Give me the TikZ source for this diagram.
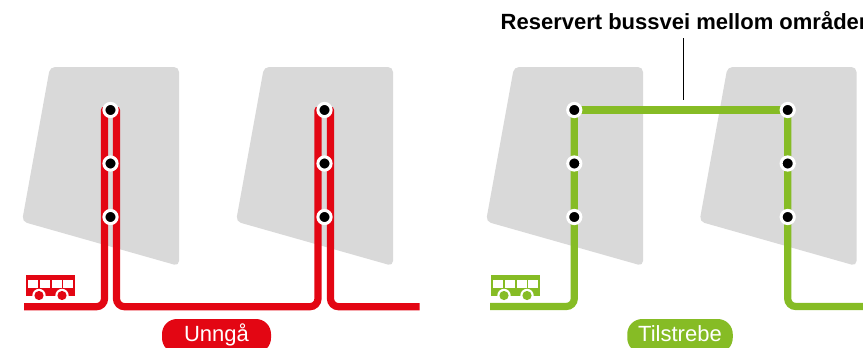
\documentclass[tikz,border=0pt]{standalone}
\usepackage{fontspec}
\setmainfont{Liberation Sans}
\definecolor{avoidred}{HTML}{E30613}
\definecolor{goalgreen}{HTML}{86BC25}
\definecolor{blockgrey}{HTML}{D9D9D9}
\tikzset{
  block/.style={fill=blockgrey,rounded corners=5pt},
  stopdot/.style={circle,fill=black,draw=white,line width=3pt,inner sep=0pt,minimum size=13.2pt},
  route/.style={line width=7.2pt,rounded corners=8pt,line cap=round},
  pill/.style={rounded corners=15pt,text=white,minimum height=34pt,inner sep=0pt},
  pilltext/.style={anchor=base,inner sep=0pt,text=white,font=\fontsize{22}{26}\selectfont},
}
\begin{document}
\begin{tikzpicture}[x=1pt,y=-1pt]
  \useasboundingbox (0,0) rectangle (863,348);
  \clip (0,0) rectangle (863,348);
  % city blocks
  \foreach \dx in {0,214,464,677.5}
    \fill[block,xshift=\dx pt] (50,67) -- (179,67) -- (179,266) -- (22,221.5) -- cycle;
  % stops
  \foreach \n/\px in {ra/110.5,rb/324.5,ga/574.3,gb/787.7}
    \foreach \m/\py in {1/110,2/163.5,3/217}
      \coordinate (\n\m) at (\px,\py);
  % left: two separate lines
  \coordinate (rstart) at (24,306.7);
  \coordinate (rend) at (419.5,306.7);
  \coordinate (ral) at (104.5,110);
  \coordinate (rar) at (116.5,110);
  \coordinate (rbl) at (318,110);
  \coordinate (rbr) at (330.5,110);
  \draw[route,avoidred,line cap=butt] (rstart) -- (rstart -| ral) -- (ral);
  \draw[route,avoidred] (rar) -- (rar |- rstart) -- (rbl |- rstart) -- (rbl);
  \draw[route,avoidred,line cap=butt] (rbr) -- (rbr |- rend) -- (rend);
  \fill[avoidred] (ral) circle (3.6pt) (rbr) circle (3.6pt);
  % right: one line with the link on top
  \coordinate (gstart) at (490,306.5);
  \coordinate (gend) at (863,306.5);
  \draw[route,goalgreen,line cap=butt] (gstart) -- (gstart -| ga1) -- (ga1);
  \draw[route,goalgreen] (ga1) -- (gb1);
  \draw[route,goalgreen,line cap=butt] (gb1) -- (gb1 |- gend) -- (gend);
  \foreach \n in {ra,rb,ga,gb}
    \foreach \m in {1,2,3}
      \node[stopdot] (s\n\m) at (\n\m) {};
  % buses
  \foreach \dx/\col in {0/avoidred,465/goalgreen}
  {
    \begin{scope}[xshift=\dx pt]
      \fill[\col] (26,275.2) rectangle (74.5,296);
      \foreach \wx in {28.4,40,51.6,63}
        \fill[white] (\wx,279.5) rectangle ++(10,8);
      \foreach \wx in {39,62}
      {
        \fill[white] (\wx,295.5) circle (6.7pt);
        \fill[\col] (\wx,295.5) circle (4.6pt);
      }
    \end{scope}
  }
  % labels
  \node[pill,fill=avoidred,minimum width=109pt] (unnga) at (216.5,336) {};
  \node[pilltext] (unngatext) at (216.5,341.7) {Unngå};
  \node[pill,fill=goalgreen,minimum width=105.5pt] (tilstrebe) at (680,336) {};
  \node[pilltext] (tilstrebetext) at (680,341.7) {Tilstrebe};
  \node[anchor=base west,inner sep=0pt,font=\fontsize{22}{26}\selectfont\bfseries] (title) at (500.5,30) {Reservert bussvei mellom områder};
  \coordinate (linktop) at (683.3,38);
  \coordinate (linkend) at (683.3,100);
  \draw[line width=1pt] (linktop) -- (linkend);
\end{tikzpicture}
\end{document}
